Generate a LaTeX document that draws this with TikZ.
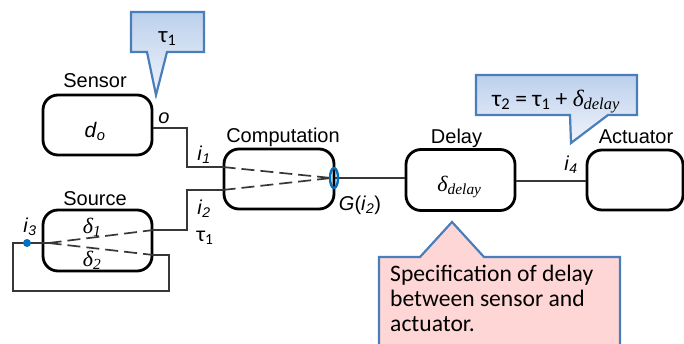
\documentclass[tikz,border=0pt]{standalone}
\usepackage{fontspec}
\setmainfont{Liberation Sans}
\newfontfamily\calib{Carlito}
\newfontfamily\tms{Liberation Serif}
\usetikzlibrary{calc}
\definecolor{cbord}{RGB}{74,126,187}
\definecolor{ctop}{RGB}{188,208,236}
\definecolor{cbot}{RGB}{240,244,251}
\definecolor{cpink}{RGB}{255,214,214}
\definecolor{cblue}{RGB}{0,112,192}
\definecolor{cline}{RGB}{55,55,55}
\begin{document}
\begin{tikzpicture}[x=1pt,y=-1pt,
  blk/.style={draw=black,line width=2.8pt,rounded corners=15pt,inner sep=0pt},
  conn/.style={draw=cline,line width=1.3pt},
  dsh/.style={draw=cline,line width=1.7pt,dash pattern=on 13pt off 6pt},
  lbl/.style={inner sep=0pt,anchor=base,font=\fontsize{20}{24}\selectfont},
  callb/.style={draw=cbord,line width=2.2pt,top color=ctop,bottom color=cbot,line join=miter},
  callp/.style={draw=cbord,line width=2.2pt,fill=cpink,line join=miter}]
\useasboundingbox (0,0) rectangle (684,343);
\fill[white] (0,0) rectangle (684,343);

% callouts
\path[callb] (131,12) -- (204,12) -- (204,52) -- (167,52) -- (156,95) -- (147,52) -- (131,52) -- cycle;
\node[lbl,font=\fontsize{23}{26}\selectfont\calib] (t1) at (167.5,42) {τ\textsubscript{1}};
\path[callb] (476,75) -- (637,75) -- (637,115) -- (608,115) -- (571,143) -- (570,115) -- (476,115) -- cycle;
\node[lbl,font=\fontsize{23.5}{26}\selectfont\calib] (t2) at (556,106) {τ\textsubscript{2} = τ\textsubscript{1} + {\tms\itshape δ\textsubscript{delay}}};

% boxes
\node[blk,minimum width=109pt,minimum height=60pt] (sensor) at (97.5,125) {};
\node[blk,minimum width=109pt,minimum height=61pt] (source) at (97.5,240.5) {};
\node[blk,minimum width=110pt,minimum height=60pt] (comp) at (279,179) {};
\node[blk,minimum width=109pt,minimum height=61pt] (delay) at (460.5,180) {};
\node[blk,minimum width=96pt,minimum height=60pt] (act) at (635,180) {};

% ports
\coordinate (pO) at ([yshift=-3pt]sensor.east);
\coordinate (pI1) at ([yshift=12pt]comp.west);
\coordinate (pI2) at ([yshift=-11pt]comp.west);
\coordinate (pS1) at ([yshift=10.5pt]source.east);
\coordinate (pS2) at ([yshift=-14.5pt]source.east);
\coordinate (pS3) at ([yshift=-2.5pt]source.west);
\coordinate (pG) at ([yshift=1pt]comp.east);
\coordinate (jx) at (187,0);
\coordinate (fbR) at (169,291);
\coordinate (fbL) at (13,291);
\coordinate (cm) at ([xshift=-4pt]pG);
\coordinate (sm) at ([xshift=7pt]pS3);

% connectors
\draw[conn] (pO) -| (jx |- pI1) -- (pI1);
\draw[conn] (pS1) -| (jx |- pI2) -- (pI2);
\draw[conn] (pG) -- (pG -| delay.west);
\draw[conn] ([yshift=-1pt]delay.east) -- ([yshift=-1pt]delay.east -| act.west);
\draw[conn] (pS2) -| (fbR) -- (fbL) |- (sm);
\draw[dsh] (pI1) -- (cm);
\draw[dsh] (pI2) -- (cm);
\draw[dsh] (sm) -- (pS1);
\draw[dsh] (sm) -- (pS2);
\node[circle,fill=cblue,inner sep=0pt,minimum size=8pt] (dot) at (27,243) {};
\draw[draw=cblue,line width=2.4pt] (334,178) ellipse [x radius=4pt,y radius=10pt];

% labels
\node[lbl] (lsensor) at (95,87) {Sensor};
\node[lbl,font=\fontsize{21}{24}\selectfont] (ldo) at (95,137) {\textit{d}\textsubscript{\textit{o}}};
\node[lbl] (lo) at (164,123) {\textit{o}};
\node[lbl] (li1) at (204,160) {\textit{i}\textsubscript{\textit{1}}};
\node[lbl] (li2) at (204,214) {\textit{i}\textsubscript{\textit{2}}};
\node[lbl,font=\fontsize{22}{26}\selectfont\calib] (ltau) at (205,241) {τ\textsubscript{1}};
\node[lbl] (lcomp) at (283,142) {Computation};
\node[lbl] (lg) at (360,210) {\textit{G}(\textit{i}\textsubscript{\textit{2}})};
\node[lbl] (ldelay) at (456.5,143) {Delay};
\node[lbl,font=\fontsize{22}{26}\selectfont\tms\itshape] (ldd) at (459.5,191) {δ\textsubscript{delay}};
\node[lbl] (lact) at (636,143) {Actuator};
\node[lbl] (li4) at (571,170) {\textit{i}\textsubscript{\textit{4}}};
\node[lbl] (lsrc) at (95,205) {Source};
\node[lbl,font=\fontsize{22}{26}\selectfont\tms\itshape] (ld1) at (92,233) {δ\textsubscript{1}};
\node[lbl,font=\fontsize{22}{26}\selectfont\tms\itshape] (ld2) at (92,266) {δ\textsubscript{2}};
\node[lbl] (li3) at (30,232) {\textit{i}\textsubscript{\textit{3}}};

% pink callout
\path[callp] (379,257) -- (420,257) -- (452,222) -- (484,257) -- (620,257) -- (620,352) -- (379,352) -- cycle;
\node[inner sep=0pt,anchor=base west,align=left,font=\fontsize{23.6}{25}\selectfont\calib] (spec) at (390,331)
  {Specification of delay\\between sensor and\\actuator.};
\end{tikzpicture}
\end{document}
